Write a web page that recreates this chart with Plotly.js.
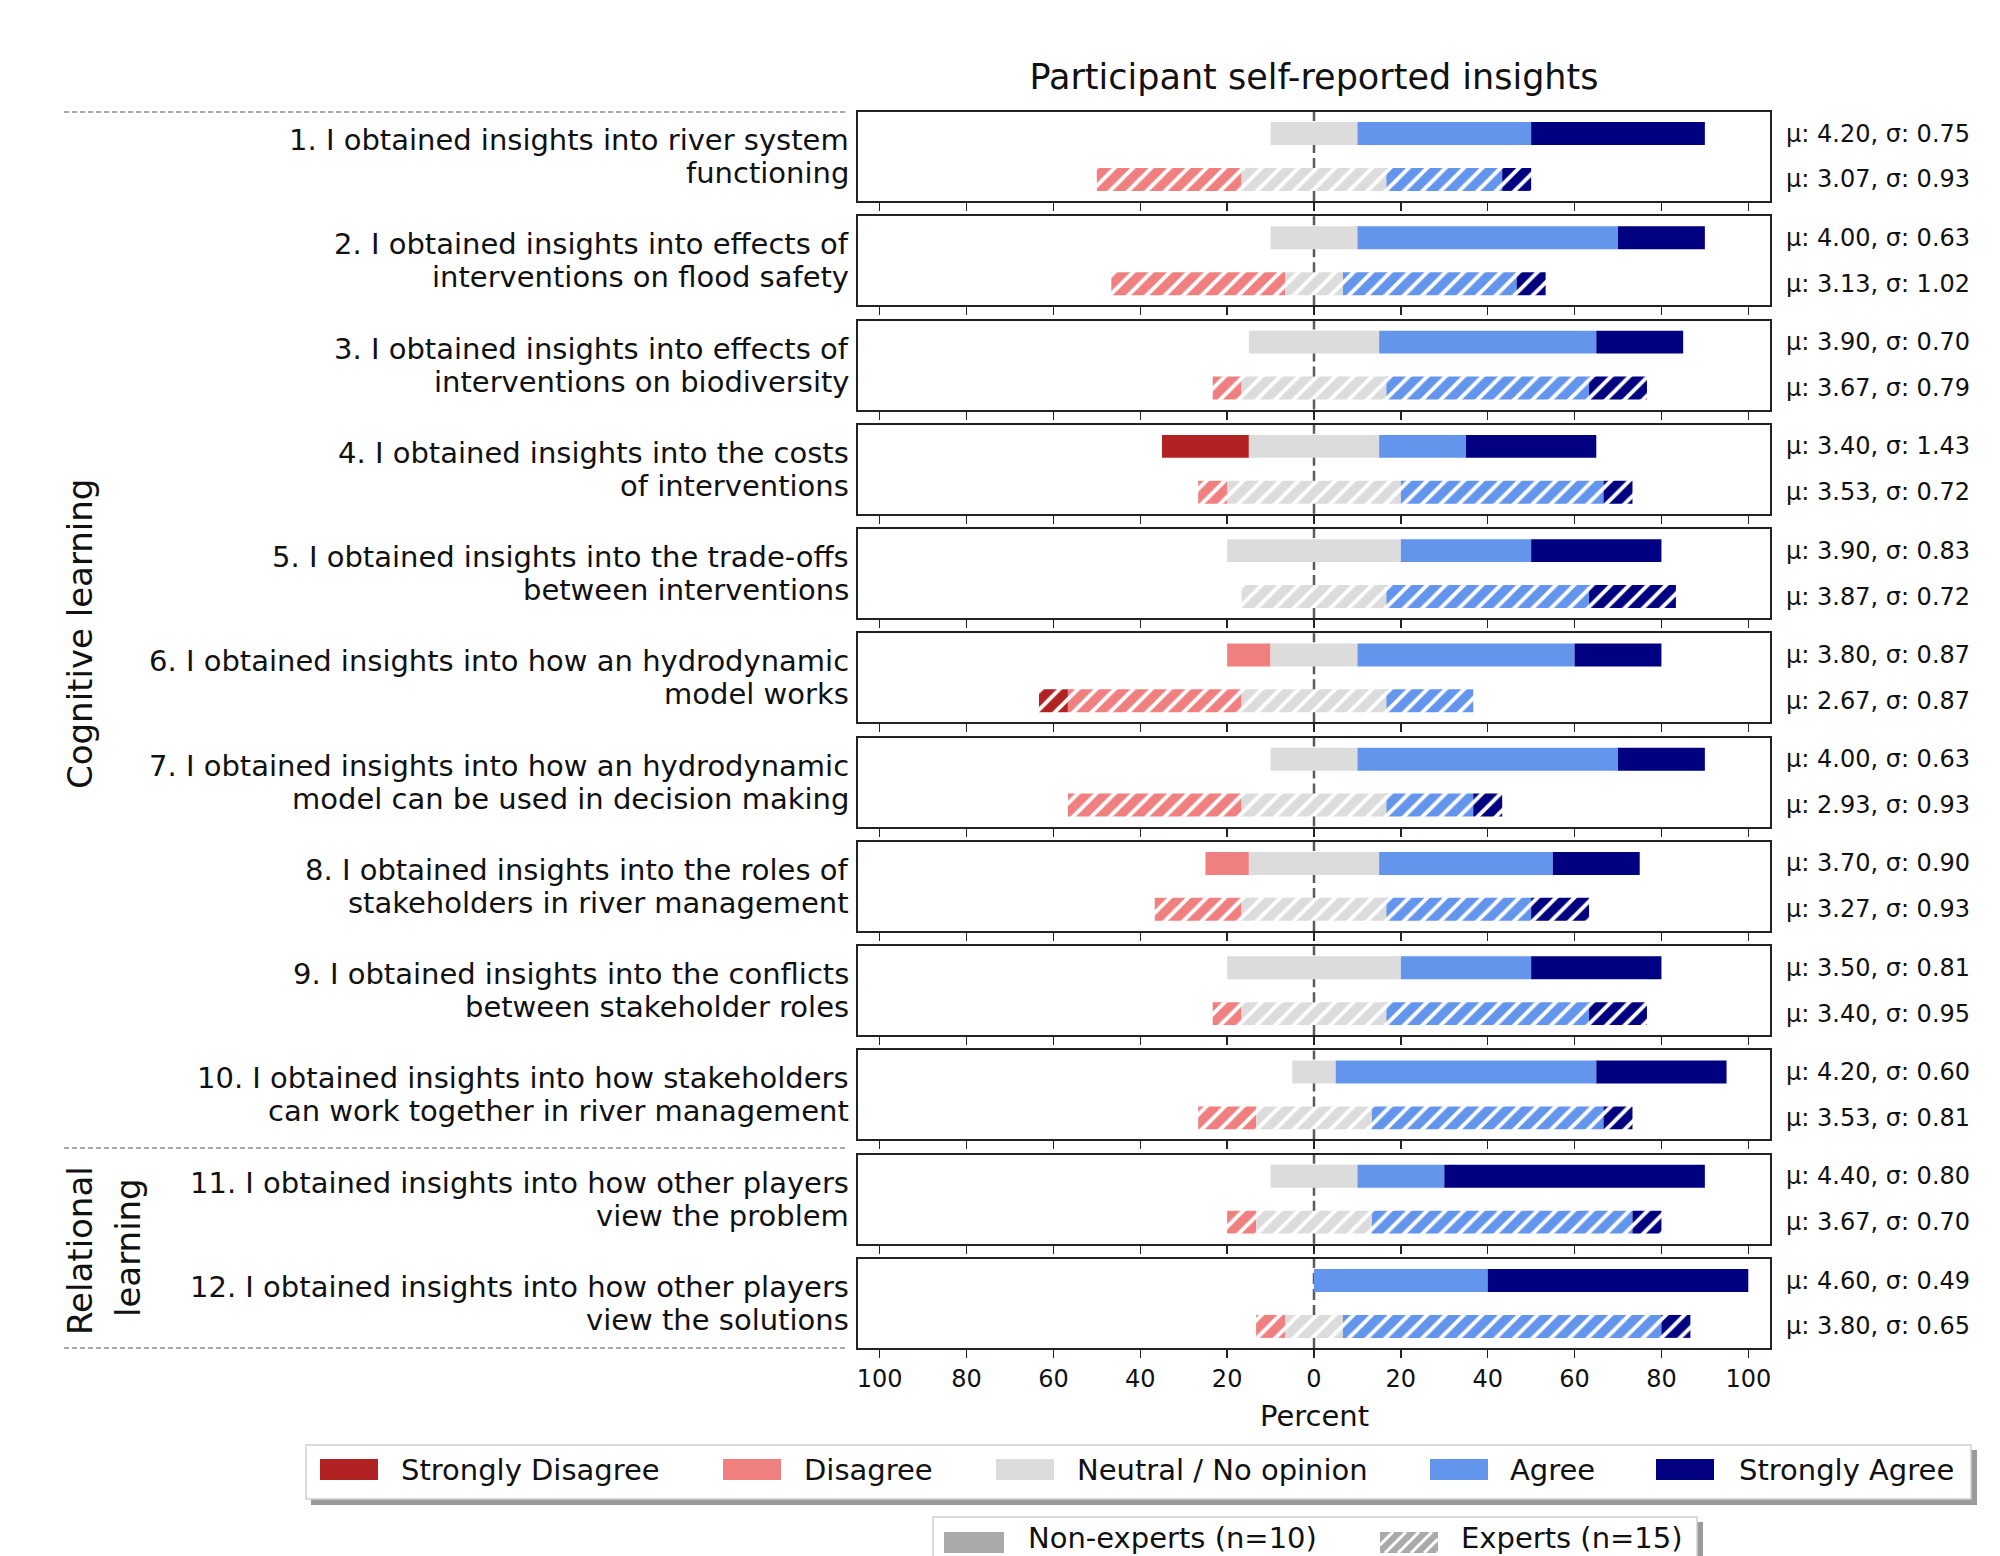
<!DOCTYPE html>
<html>
<head>
<meta charset="utf-8">
<script src="https://cdn.plot.ly/plotly-3.0.1.min.js"></script>
<style>html,body{margin:0;padding:0;background:#fff;}#chart{width:2000px;height:1556px;}</style>
</head>
<body>
<div id="chart"></div>
<script>
// ---------------- DATA ----------------
const categories = ['Strongly Disagree', 'Disagree', 'Neutral / No opinion', 'Agree', 'Strongly Agree'];
const groupNames = ['Non-experts (n=10)', 'Experts (n=15)'];
const nNonExperts = 10;
const nExperts = 15;
const questions = [
  '1. I obtained insights into river system\nfunctioning',
  '2. I obtained insights into effects of\ninterventions on flood safety',
  '3. I obtained insights into effects of\ninterventions on biodiversity',
  '4. I obtained insights into the costs\nof interventions',
  '5. I obtained insights into the trade-offs\nbetween interventions',
  '6. I obtained insights into how an hydrodynamic\nmodel works',
  '7. I obtained insights into how an hydrodynamic\nmodel can be used in decision making',
  '8. I obtained insights into the roles of\nstakeholders in river management',
  '9. I obtained insights into the conflicts\nbetween stakeholder roles',
  '10. I obtained insights into how stakeholders\ncan work together in river management',
  '11. I obtained insights into how other players\nview the problem',
  '12. I obtained insights into how other players\nview the solutions'
];
// counts per answer: [SD, D, N, A, SA]
const nonExpertCounts = [
  [0,0,2,4,4],[0,0,2,6,2],[0,0,3,5,2],[2,0,3,2,3],[0,0,4,3,3],[0,1,2,5,2],
  [0,0,2,6,2],[0,1,3,4,2],[0,0,4,3,3],[0,0,1,6,3],[0,0,2,2,6],[0,0,0,4,6]
];
const expertCounts = [
  [0,5,5,4,1],[0,6,2,6,1],[0,1,5,7,2],[0,1,6,7,1],[0,0,5,7,3],[1,6,5,3,0],
  [0,6,5,3,1],[0,3,5,5,2],[0,1,5,7,2],[0,2,4,8,1],[0,1,4,9,1],[0,1,2,11,1]
];
const nonExpertMean = [4.20,4.00,3.90,3.40,3.90,3.80,4.00,3.70,3.50,4.20,4.40,4.60];
const nonExpertStd  = [0.75,0.63,0.70,1.43,0.83,0.87,0.63,0.90,0.81,0.60,0.80,0.49];
const expertMean    = [3.07,3.13,3.67,3.53,3.87,2.67,2.93,3.27,3.40,3.53,3.67,3.80];
const expertStd     = [0.93,1.02,0.79,0.72,0.72,0.87,0.93,0.93,0.95,0.81,0.70,0.65];
const tickValues = [-100,-80,-60,-40,-20,0,20,40,60,80,100];
const tickLabels = ['100','80','60','40','20','0','20','40','60','80','100'];
const sectionLabels = ['Cognitive learning', 'Relational', 'learning'];
const chartTitle = 'Participant self-reported insights';
const xTitle = 'Percent';

// ---------------- STYLE / LAYOUT ----------------
const colors = ['#b22222', '#f08080', '#dcdcdc', '#6495ed', '#000080'];
const W = 2000, H = 1556;
const FONT = 'DejaVu Sans, Verdana, sans-serif';
const px = x => x / W;
const py = y => 1 - y / H;
const plotLeft = 858, plotRight = 1770;
const panelTop0 = 112, panelH = 89, panelPitch = 104.27;

const traces = [];
const layout = {
  width: W, height: H, autosize: false,
  margin: {l: 0, r: 0, t: 0, b: 0, pad: 0},
  paper_bgcolor: '#ffffff', plot_bgcolor: '#ffffff',
  barmode: 'overlay', showlegend: false,
  font: {family: FONT, color: '#111111'},
  title: {text: chartTitle, x: px(1314), xanchor: 'center', y: py(77), yanchor: 'middle', xref: 'paper', yref: 'paper',
          font: {family: FONT, size: 35, color: '#111111'}},
  shapes: [], annotations: []
};

function pct(counts, n) { return counts.map(c => c / n * 100); }
function bases(p) {
  const start = -(p[0] + p[1] + p[2] / 2);
  const b = []; let acc = start;
  for (let k = 0; k < p.length; k++) { b.push(acc); acc += p[k]; }
  return b;
}

questions.forEach((q, i) => {
  const sfx = i === 0 ? '' : String(i + 1);
  const xa = 'x' + sfx, ya = 'y' + sfx;
  const top = panelTop0 + i * panelPitch, bot = top + panelH;
  const last = i === questions.length - 1;
  layout['xaxis' + sfx] = {
    domain: [px(plotLeft), px(plotRight)], anchor: ya, range: [-105, 105],
    tickmode: 'array', tickvals: tickValues, ticktext: tickLabels,
    showticklabels: last, ticks: 'outside', ticklen: 8, tickwidth: 1.5, tickcolor: '#222',
    tickfont: {family: FONT, size: 24, color: '#111'},
    showline: true, mirror: true, linecolor: '#222', linewidth: 2,
    showgrid: false, zeroline: false, fixedrange: true,
    title: {text: ''}
  };
  layout['yaxis' + sfx] = {
    domain: [py(bot), py(top)], anchor: xa, range: [-0.47, 1.47],
    showticklabels: false, ticks: '', showline: true, mirror: true, linecolor: '#222', linewidth: 2,
    showgrid: false, zeroline: false, fixedrange: true
  };
  const pN = pct(nonExpertCounts[i], nNonExperts), pE = pct(expertCounts[i], nExperts);
  const bN = bases(pN), bE = bases(pE);
  categories.forEach((cat, c) => {
    traces.push({
      type: 'bar', orientation: 'h', name: cat,
      x: [pN[c], pE[c]], base: [bN[c], bE[c]], y: [1, 0], width: 0.5,
      xaxis: xa, yaxis: ya, hoverinfo: 'skip', showlegend: false,
      marker: {color: colors[c], line: {width: 0},
        pattern: {shape: ['', '/'], fgcolor: '#ffffff', fgopacity: 1, size: 13, solidity: 0.3, fillmode: 'overlay'}}
    });
  });
  // zero line
  layout.shapes.push({type: 'line', xref: xa, yref: ya + ' domain', x0: 0, x1: 0, y0: 0, y1: 1,
    line: {color: '#5a5a5a', width: 2.5, dash: '11px,5px'}, layer: 'below'});
  // question label
  const lines = q.split('\n');
  lines.forEach((ln, k) => {
    layout.annotations.push({text: ln, xref: 'paper', x: px(851), xanchor: 'right',
      yref: ya + ' domain', y: 0.5, yanchor: 'middle', yshift: (lines.length - 1) * 16.5 - k * 33,
      showarrow: false, font: {family: FONT, size: 29, color: '#111'}});
  });
  // mean / std labels
  layout.annotations.push({text: 'μ: ' + nonExpertMean[i].toFixed(2) + ', σ: ' + nonExpertStd[i].toFixed(2),
    xref: 'paper', x: px(1784), xanchor: 'left', yref: ya, y: 1, yanchor: 'middle', showarrow: false,
    font: {family: FONT, size: 24, color: '#111'}});
  layout.annotations.push({text: 'μ: ' + expertMean[i].toFixed(2) + ', σ: ' + expertStd[i].toFixed(2),
    xref: 'paper', x: px(1784), xanchor: 'left', yref: ya, y: 0, yanchor: 'middle', showarrow: false,
    font: {family: FONT, size: 24, color: '#111'}});
});

// x axis title (bottom panel)
layout.annotations.push({text: xTitle, xref: 'paper', yref: 'paper', x: px(1314), y: py(1416),
  xanchor: 'center', yanchor: 'middle', showarrow: false, font: {family: FONT, size: 29, color: '#111'}});

// section separators
[112, 1148, 1348].forEach(y => {
  layout.shapes.push({type: 'line', xref: 'paper', yref: 'paper', x0: px(64), x1: px(848), y0: py(y), y1: py(y),
    line: {color: '#8a8a8a', width: 1.5, dash: '5px,3px'}});
});
// section labels
layout.annotations.push({text: sectionLabels[0], textangle: -90, xref: 'paper', yref: 'paper', x: px(80), y: py(634),
  xanchor: 'center', yanchor: 'middle', showarrow: false, font: {family: FONT, size: 34, color: '#111'}});
layout.annotations.push({text: sectionLabels[1], textangle: -90, xref: 'paper', yref: 'paper', x: px(80), y: py(1251),
  xanchor: 'center', yanchor: 'middle', showarrow: false, font: {family: FONT, size: 34, color: '#111'}});
layout.annotations.push({text: sectionLabels[2], textangle: -90, xref: 'paper', yref: 'paper', x: px(128), y: py(1248),
  xanchor: 'center', yanchor: 'middle', showarrow: false, font: {family: FONT, size: 34, color: '#111'}});

// ---------------- LEGENDS (drawn) ----------------
function rect(x0, y0, x1, y1, fill, lineColor, lw) {
  layout.shapes.push({type: 'rect', xref: 'paper', yref: 'paper', x0: px(x0), x1: px(x1), y0: py(y1), y1: py(y0),
    fillcolor: fill, line: {color: lineColor || fill, width: lw || 0}, layer: 'above'});
}
function legendText(t, x, y) {
  layout.annotations.push({text: t, xref: 'paper', yref: 'paper', x: px(x), y: py(y), xanchor: 'left', yanchor: 'middle',
    showarrow: false, font: {family: FONT, size: 29, color: '#111'}});
}
// legend 1
rect(311, 1450, 1977, 1505, '#9a9a9a');
rect(306, 1445, 1971, 1499, '#ffffff', '#cfcfcf', 1.5);
const patchX = [320, 723, 996, 1430, 1656];
const textX = [399, 802, 1075, 1508, 1737];
categories.forEach((cat, c) => {
  rect(patchX[c], 1459, patchX[c] + 58, 1480, colors[c]);
  legendText(cat, textX[c], 1470);
});
// legend 2
rect(938, 1522, 1703, 1590, '#9a9a9a');
rect(933, 1517, 1697, 1585, '#ffffff', '#cfcfcf', 1.5);
rect(944, 1532, 1004, 1553, '#aaaaaa');
legendText(groupNames[0], 1026, 1538);
const hx0 = 1380, hx1 = 1438, hy0 = 1532, hy1 = 1553;
rect(hx0, hy0, hx1, hy1, '#aaaaaa');
for (let cc = hx0 + hy0; cc < hx1 + hy1 + 13; cc += 13) {
  const xa = Math.max(hx0, cc - hy1), xb = Math.min(hx1, cc - hy0);
  if (xb > xa) {
    layout.shapes.push({type: 'line', xref: 'paper', yref: 'paper', x0: px(xa), y0: py(cc - xa), x1: px(xb), y1: py(cc - xb),
      line: {color: '#ffffff', width: 3}, layer: 'above'});
  }
}
legendText(groupNames[1], 1459, 1538);

Plotly.newPlot('chart', traces, layout, {staticPlot: true, displayModeBar: false});
</script>
</body>
</html>
